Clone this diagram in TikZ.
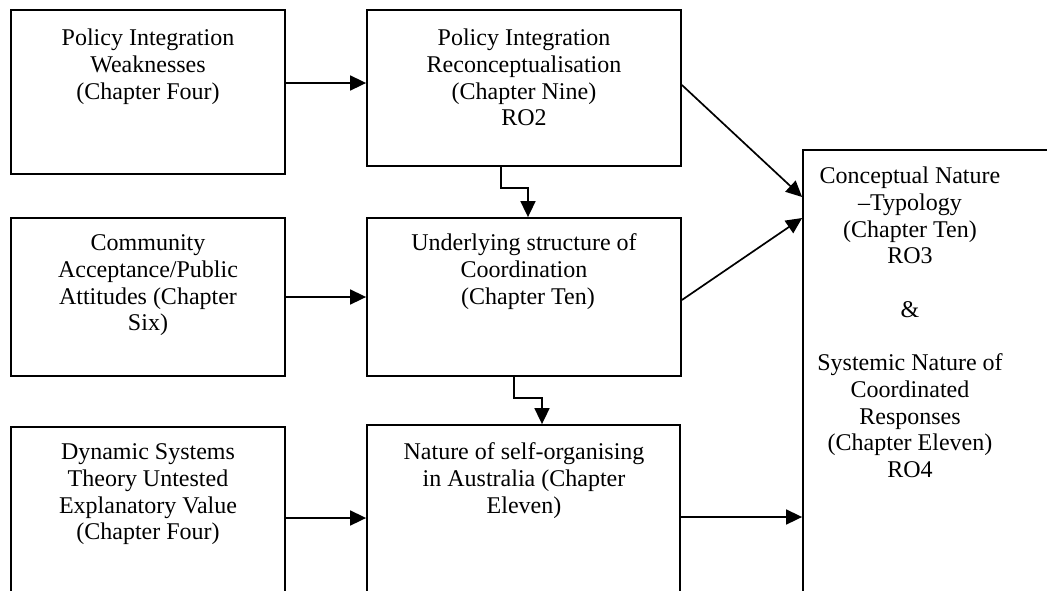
\documentclass[tikz,border=0pt]{standalone}
\usepackage{fontspec}
\setmainfont{Liberation Serif}
\usetikzlibrary{arrows.meta}
\begin{document}
\begin{tikzpicture}[x=1pt,y=-1pt,
  box/.style={draw, line width=1.8pt, rectangle, inner sep=0pt},
  txt/.style={anchor=north, align=center, inner sep=0pt,
    font=\fontsize{24}{26.7}\selectfont},
  arr/.style={line width=1.7pt, -{Triangle[length=16pt,width=15pt]}}]
\useasboundingbox (0,0) rectangle (1047,590);
\clip (0,0) rectangle (1047,590);

% boxes
\node[box, minimum width=274pt, minimum height=164pt] (b1) at (148,92) {};
\node[box, minimum width=314pt, minimum height=156pt] (b2) at (524,88) {};
\node[box, minimum width=274pt, minimum height=158pt] (b3) at (148,297) {};
\node[box, minimum width=314pt, minimum height=158pt] (b4) at (524,297) {};
\node[box, minimum width=274pt, minimum height=193pt] (b5) at (148,523.5) {};
\node[box, minimum width=313pt, minimum height=195pt] (b6) at (523.5,522.5) {};
\node[box, minimum width=297pt, minimum height=470pt] (b7) at (951.5,385) {};

% texts
\node[txt] (t1) at (148,27) {\strut Policy Integration\\Weaknesses\\(Chapter Four)};
\node[txt] (t2) at (524,27) {\strut Policy Integration\\Reconceptualisation\\(Chapter Nine)\\RO2};
\node[txt] (t3) at (148,232) {\strut Community\\Acceptance/Public\\Attitudes (Chapter\\Six)};
\node[txt] (t4) at (524,232) {\strut Underlying structure of\\Coordination\\\hspace*{8pt}(Chapter Ten)};
\node[txt] (t5) at (148,441) {\strut Dynamic Systems\\Theory Untested\\Explanatory Value\\(Chapter Four)};
\node[txt] (t6) at (524,441) {\strut Nature of self-organising\\in Australia (Chapter\\Eleven)};
\node[txt] (t7) at (910,165) {\strut Conceptual Nature\\–Typology\\(Chapter Ten)\\RO3\\[26.7pt]\&\\[26.7pt]Systemic Nature of\\Coordinated\\Responses\\(Chapter Eleven)\\RO4};

% connector guide points
\coordinate (h1) at (0,83);
\coordinate (h2) at (0,297);
\coordinate (h3) at (0,518);
\coordinate (h4) at (0,517);
\coordinate (d1s) at (0,85);
\coordinate (d1e) at (0,197);
\coordinate (d2s) at (0,300);
\coordinate (d2e) at (0,218);
\coordinate (k1a) at (501,188);
\coordinate (k1b) at (528,188);
\coordinate (k2a) at (514,398);
\coordinate (k2b) at (542,398);

% connectors
\draw[arr] (b1.east |- h1) -- (b2.west |- h1);
\draw[arr] (b3.east |- h2) -- (b4.west |- h2);
\draw[arr] (b5.east |- h3) -- (b6.west |- h3);
\draw[arr] (b6.east |- h4) -- (b7.west |- h4);
\draw[arr] (b2.east |- d1s) -- (b7.west |- d1e);
\draw[arr] (b4.east |- d2s) -- (b7.west |- d2e);
\draw[arr] (b2.south -| k1a) -- (k1a) -- (k1b) -- (b4.north -| k1b);
\draw[arr] (b4.south -| k2a) -- (k2a) -- (k2b) -- (b6.north -| k2b);
\end{tikzpicture}
\end{document}
